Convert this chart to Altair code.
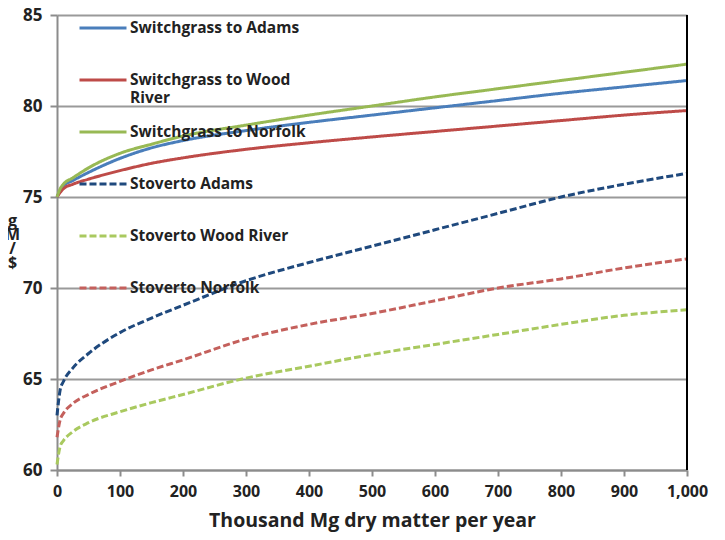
import altair as alt
import pandas as pd

xs = [0, 5, 10, 25, 50, 100, 150, 200, 300, 400, 500, 600, 700, 800, 900, 1000]
sg_adams = [75.0, 75.35, 75.6, 75.9, 76.35, 77.12, 77.7, 78.1, 78.65, 79.1, 79.5, 79.9, 80.3, 80.7, 81.05, 81.4]
sg_wood = [75.0, 75.25, 75.45, 75.7, 75.98, 76.45, 76.85, 77.15, 77.62, 77.98, 78.3, 78.6, 78.9, 79.2, 79.5, 79.75]
sg_norfolk = [75.0, 75.45, 75.7, 76.05, 76.6, 77.4, 77.9, 78.35, 78.95, 79.5, 80.0, 80.5, 80.95, 81.4, 81.85, 82.3]
st_adams = [63.0, 64.4, 64.85, 65.6, 66.4, 67.55, 68.35, 69.05, 70.4, 71.4, 72.3, 73.2, 74.1, 75.0, 75.7, 76.3]
st_wood = [60.3, 61.3, 61.6, 62.1, 62.6, 63.2, 63.7, 64.15, 65.05, 65.7, 66.35, 66.9, 67.45, 68.0, 68.5, 68.8]
st_norfolk = [61.8, 62.75, 63.1, 63.65, 64.15, 64.87, 65.5, 66.05, 67.2, 68.0, 68.6, 69.3, 70.0, 70.5, 71.1, 71.6]

series_names = [
    "Switchgrass to Adams",
    "Switchgrass to Wood River",
    "Switchgrass to Norfolk",
    "Stoverto Adams",
    "Stoverto Wood River",
    "Stoverto Norfolk",
]
series_values = [sg_adams, sg_wood, sg_norfolk, st_adams, st_wood, st_norfolk]
colors = ["#4A7EBB", "#BE4B48", "#98B954", "#1F497D", "#A9C95F", "#C4605C"]
dashes = [[1, 0], [1, 0], [1, 0], [7, 3], [7, 3], [7, 3]]
x_ticks = list(range(0, 1001, 100))
y_ticks = [60, 65, 70, 75, 80, 85]

rows = []
for name, vals in zip(series_names, series_values):
    for i, (x, y) in enumerate(zip(xs, vals)):
        rows.append({"series": name, "x": x, "y": y, "order": i})
df = pd.DataFrame(rows)

FONT = "Open Sans"

lines = alt.Chart(df).mark_line(strokeWidth=3, interpolate="monotone").encode(
    x=alt.X("x:Q", scale=alt.Scale(domain=[0, 1000], nice=False),
            axis=alt.Axis(values=x_ticks, format=",.0f", labelFlush=False,
                          title="Thousand Mg dry matter per year", grid=False,
                          domainColor="#8c8c8c", domainWidth=2, tickColor="#8c8c8c",
                          tickWidth=2, tickSize=6, labelPadding=7,
                          labelFont=FONT, labelFontSize=16, labelFontWeight="bold",
                          labelColor="#222", titleFont=FONT, titleFontSize=19.5,
                          titleFontWeight="bold", titleColor="#222", titlePadding=12)),
    y=alt.Y("y:Q", scale=alt.Scale(domain=[60, 85], nice=False, zero=False),
            axis=alt.Axis(values=y_ticks, title=["g", "M", "/", "$"], labelFlush=False,
                          titleAngle=0, titleX=-45, titleY=205, titleAlign="center",
                          titleBaseline="middle", titleLineHeight=14, titleFont=FONT,
                          titleFontSize=16, titleFontWeight="bold", titleColor="#222",
                          grid=True, gridColor="#9a9a9a", gridWidth=2,
                          domainColor="#8c8c8c", domainWidth=2, tickColor="#8c8c8c",
                          tickWidth=2, tickSize=7, labelPadding=8,
                          labelFont=FONT, labelFontSize=17, labelFontWeight="bold",
                          labelColor="#222")),
    color=alt.Color("series:N", scale=alt.Scale(domain=series_names, range=colors),
                    sort=series_names,
                    legend=alt.Legend(title=None, orient="none", legendX=21, legendY=-12,
                                      symbolType="stroke", symbolSize=2209,
                                      symbolStrokeWidth=3, rowPadding=1, labelOffset=2,
                                      labelFont=FONT, labelFontSize=15.5,
                                      labelFontWeight="bold", labelColor="#222",
                                      labelLimit=300, padding=0,
                                      labelExpr="datum.label == 'Switchgrass to Wood River' ? ['Switchgrass to Wood', 'River'] : [datum.label, ' ']")),
    strokeDash=alt.StrokeDash("series:N", scale=alt.Scale(domain=series_names, range=dashes),
                              sort=series_names, legend=None),
    order="order:Q",
)

border = alt.Chart(pd.DataFrame({"x": [1000]})).mark_rule(color="black", strokeWidth=2).encode(
    x="x:Q"
)

chart = alt.layer(lines, border).properties(
    width=630, height=455,
    autosize=alt.AutoSizeParams(type="none"),
    padding={"left": 49, "top": 7, "right": 30, "bottom": 62},
).configure_view(stroke=None)

chart.save("out.html", embed_options={"renderer": "svg", "actions": False})
